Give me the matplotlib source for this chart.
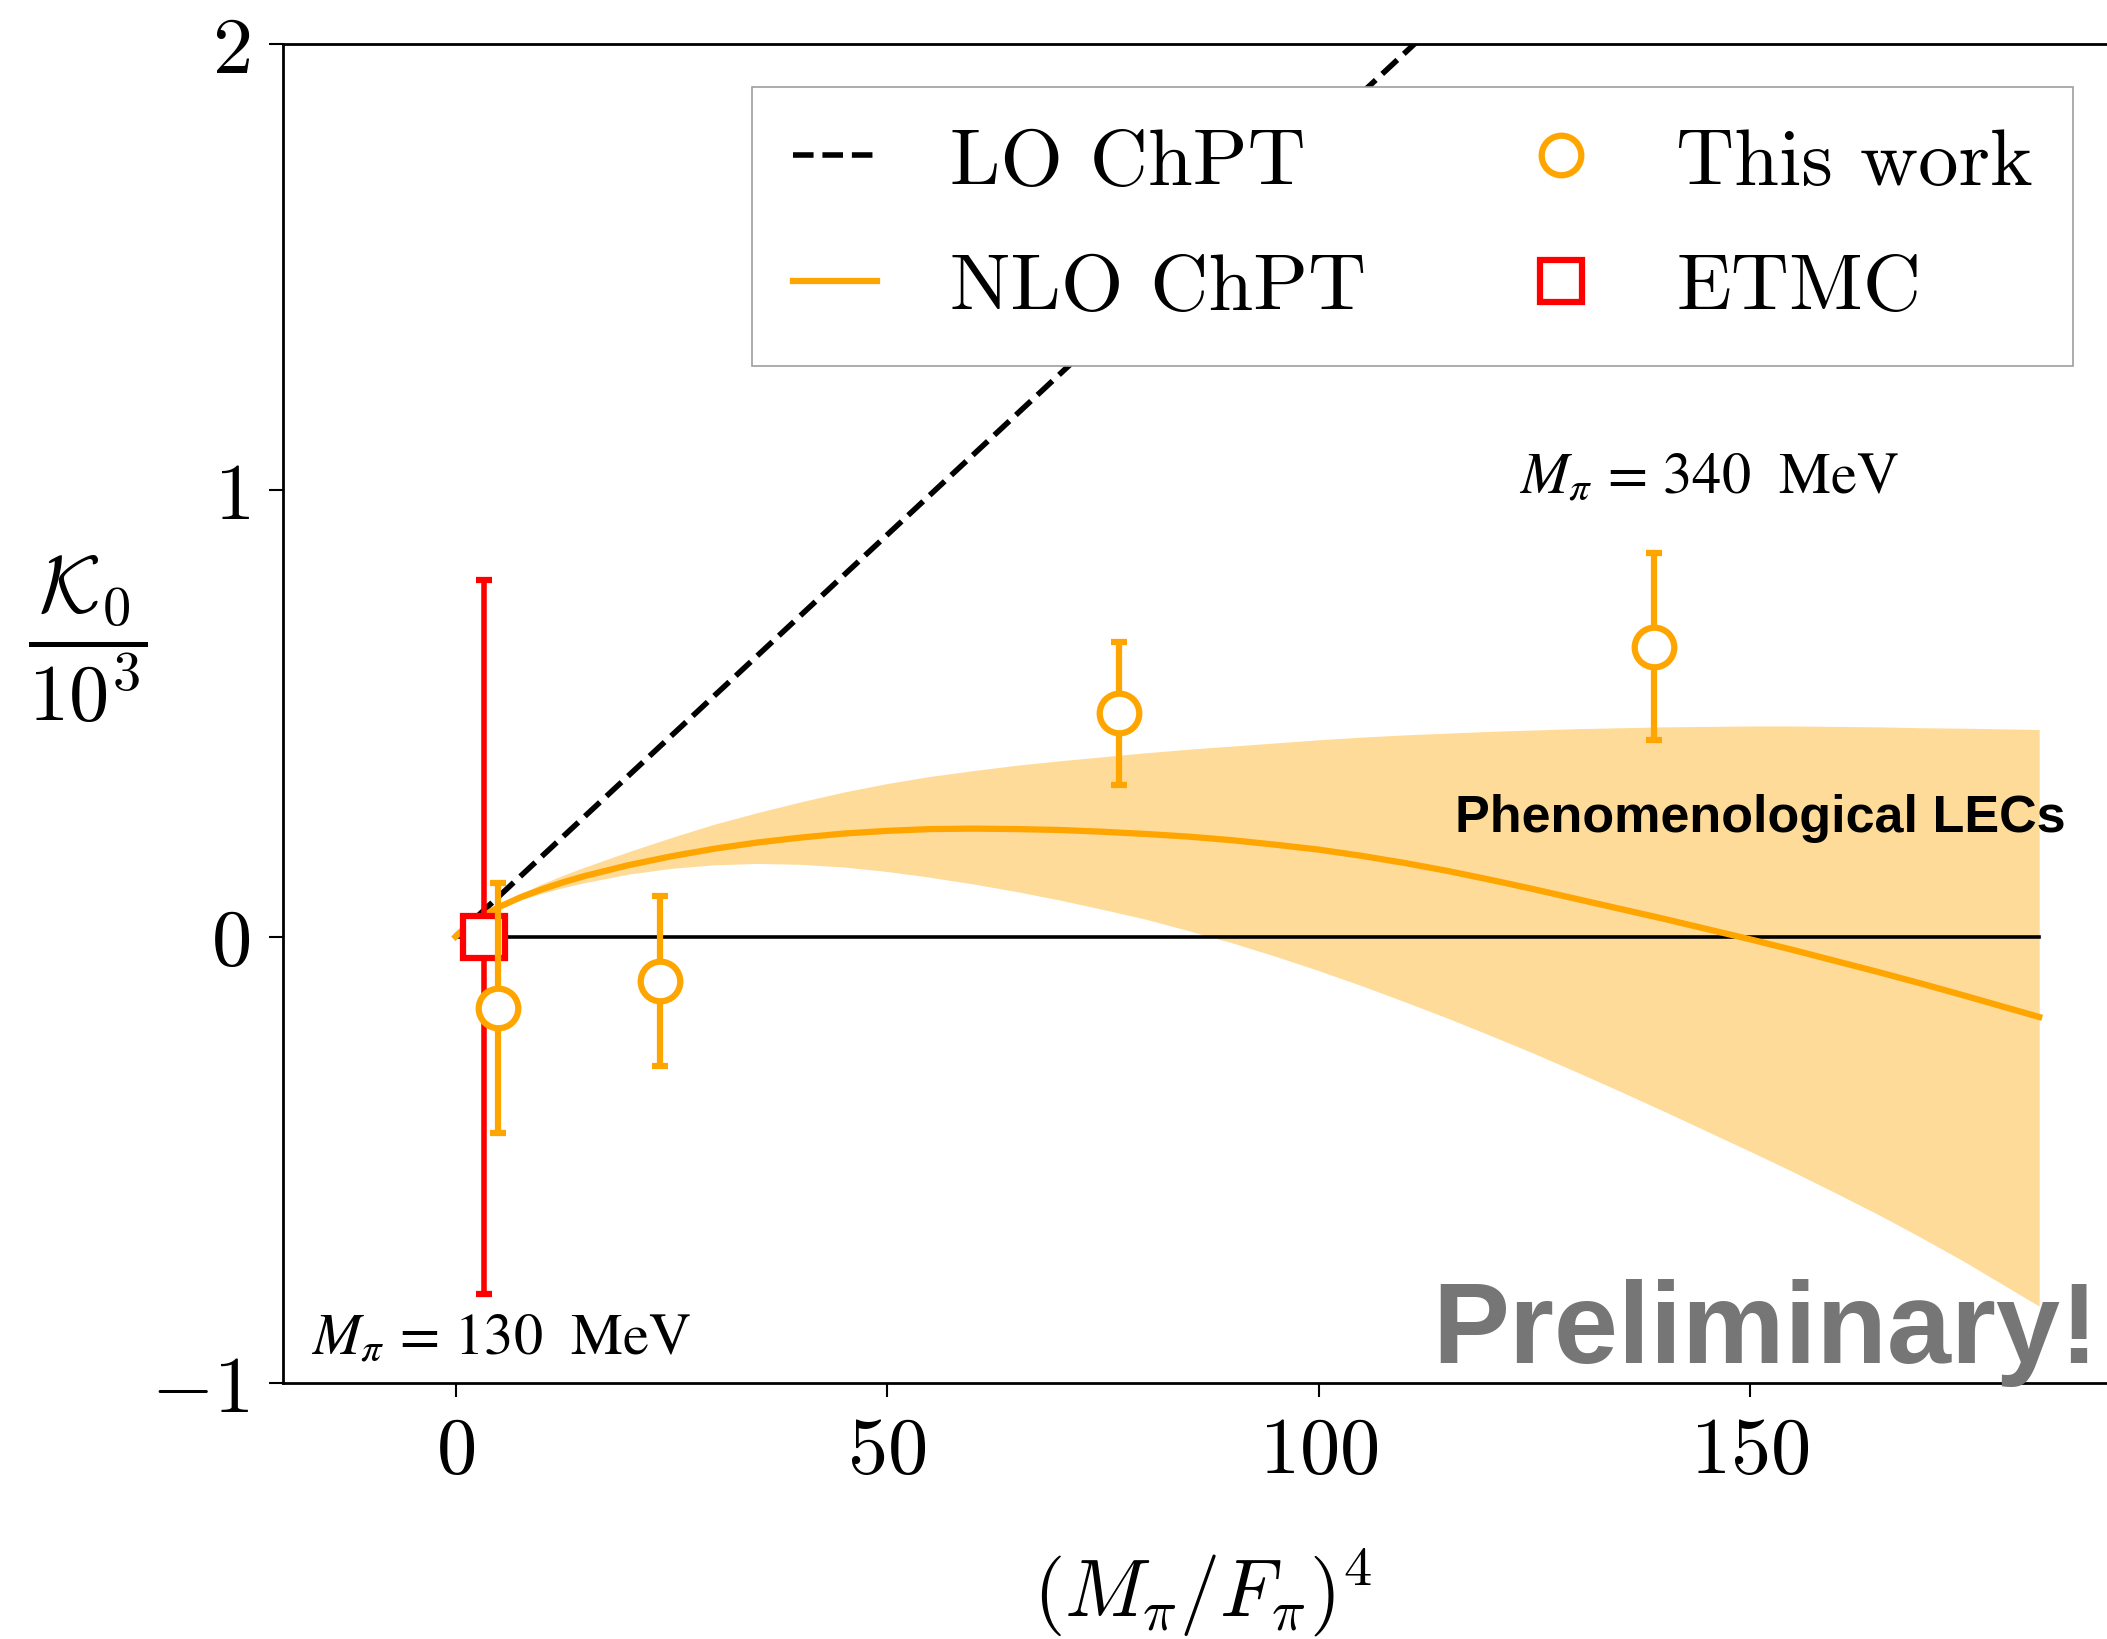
import numpy as np
import matplotlib
matplotlib.use("Agg")
import matplotlib.pyplot as plt

plt.rcParams["mathtext.fontset"] = "cm"
plt.rcParams["font.family"] = "cmr10"
plt.rcParams["axes.unicode_minus"] = False

# ---- data ---------------------------------------------------------------
# NLO ChPT central curve and its band (phenomenological LECs)
x_fit = [0, 1, 2, 3, 5, 7.5, 10, 12.5, 15, 20, 25, 30, 35, 40, 45, 50, 55, 60,
         65, 70, 75, 80, 85, 90, 95, 100, 105, 110, 115, 120, 125, 130, 135,
         140, 145, 150, 155, 160, 165, 170, 175, 183.5]
nlo_central = [0, 0.018, 0.033, 0.045, 0.066, 0.088, 0.106, 0.122, 0.136, 0.160,
               0.180, 0.197, 0.211, 0.222, 0.231, 0.237, 0.241, 0.242, 0.241,
               0.239, 0.235, 0.230, 0.224, 0.216, 0.206, 0.195, 0.181, 0.165,
               0.147, 0.127, 0.106, 0.084, 0.062, 0.040, 0.017, -0.006, -0.030,
               -0.055, -0.080, -0.106, -0.133, -0.180]
nlo_upper = [0, 0.019, 0.035, 0.048, 0.071, 0.096, 0.118, 0.138, 0.156, 0.190,
             0.222, 0.252, 0.278, 0.302, 0.324, 0.343, 0.359, 0.372, 0.384,
             0.394, 0.403, 0.412, 0.420, 0.427, 0.434, 0.441, 0.447, 0.452,
             0.456, 0.460, 0.463, 0.466, 0.468, 0.470, 0.471, 0.472, 0.472,
             0.471, 0.470, 0.468, 0.467, 0.464]
nlo_lower = [0, 0.017, 0.031, 0.042, 0.062, 0.082, 0.097, 0.110, 0.121, 0.140,
             0.153, 0.161, 0.164, 0.162, 0.156, 0.146, 0.133, 0.118, 0.101,
             0.082, 0.061, 0.039, 0.013, -0.014, -0.044, -0.076, -0.110,
             -0.146, -0.183, -0.222, -0.262, -0.304, -0.347, -0.391, -0.436,
             -0.481, -0.527, -0.575, -0.624, -0.676, -0.730, -0.828]

# LO ChPT straight line
lo_x = [0, 200]
lo_y = [0, 3.6]

# Lattice results (this work)
work_x = [4.9, 23.7, 76.9, 138.9]
work_y = [-0.16, -0.10, 0.50, 0.65]
work_err = [0.28, 0.19, 0.16, 0.21]

# ETMC
etmc_x = [3.3]
etmc_y = [0.0]
etmc_err = [0.80]

x_ticks = [0, 50, 100, 150]
x_tick_labels = ["$0$", "$50$", "$100$", "$150$"]
y_ticks = [-1, 0, 1, 2]
y_tick_labels = ["$-1$", "$0$", "$1$", "$2$"]

# ---- figure -------------------------------------------------------------
fig = plt.figure(figsize=(21.07, 16.40), dpi=100)
ax = fig.add_axes([0.1343, 0.1561, 0.9011, 0.8165])
ax.set_xlim(-20, 200)
ax.set_ylim(-1, 2)

orange = "orange"
fs = 58

ax.fill_between(x_fit, nlo_lower, nlo_upper, color=orange, alpha=0.4, lw=0, zorder=1)
ax.plot([x_fit[0], x_fit[-1]], [0, 0], color="black", lw=2.6, zorder=1.5)
lo_line, = ax.plot(lo_x, lo_y, color="black", ls="--", lw=4, zorder=2, label="LO ChPT")
nlo_line, = ax.plot(x_fit, nlo_central, color=orange, lw=4.5, zorder=2.2,
                    label="NLO ChPT", solid_joinstyle="round")

etmc = ax.errorbar(etmc_x, etmc_y, yerr=etmc_err, fmt="s", ms=30, mfc="white",
                   mec="red", mew=4.5, ecolor="red", elinewidth=4,
                   capsize=5.5, capthick=3.5, zorder=3)
work = ax.errorbar(work_x, work_y, yerr=work_err, fmt="o", ms=28.5, mfc="white",
                   mec=orange, mew=4.5, ecolor=orange, elinewidth=4.5,
                   capsize=5.5, capthick=3.5, zorder=4)

# ---- axes styling -------------------------------------------------------
for side in ["left", "bottom", "top", "right"]:
    ax.spines[side].set_linewidth(2)
ax.set_xticks(x_ticks)
ax.set_xticklabels(x_tick_labels)
ax.set_yticks(y_ticks)
ax.set_yticklabels(y_tick_labels)
ax.tick_params(axis="both", direction="out", length=10, width=1.5,
               labelsize=fs, pad=14, top=False, right=False)

ax.set_xlabel(r"$(M_\pi/F_\pi)^4$", fontsize=fs)
ax.xaxis.set_label_coords(0.4846, -0.156)
ax.xaxis.label.set_va("center")
ax.set_ylabel(r"$\dfrac{\mathcal{K}_0}{10^3}$", fontsize=fs, rotation=0)
ax.yaxis.set_label_coords(-0.103, 0.556)
ax.yaxis.label.set_va("center")
ax.yaxis.label.set_ha("center")

# ---- annotations --------------------------------------------------------
ax.text(123.2, 0.995, r"$M_\pi\,=\,340\ \ \mathrm{MeV}$", fontsize=42,
        math_fontfamily="stix", ha="left", va="baseline", zorder=5)
ax.text(-16.8, -0.934, r"$M_\pi\,=\,130\ \ \mathrm{MeV}$", fontsize=42,
        math_fontfamily="stix", ha="left", va="baseline", zorder=5)
ax.text(115.8, 0.236, "Phenomenological LECs", fontsize=37.5,
        family="Liberation Sans", weight="bold", color="black",
        ha="left", va="baseline", zorder=5)
ax.text(113.2, -0.952, "Preliminary!", fontsize=83,
        family="Liberation Sans", weight="bold", color="#767676",
        ha="left", va="baseline", zorder=5)

# ---- legend -------------------------------------------------------------
leg = ax.legend([lo_line, nlo_line, work[0], etmc[0]],
                ["LO ChPT", "NLO ChPT", "This work", "ETMC"],
                ncol=2, loc="upper right",
                bbox_to_anchor=(2073 / 2107, 1 - 88 / 1640),
                bbox_transform=fig.transFigure, borderaxespad=0,
                prop={"family": "cmr10", "size": fs},
                handlelength=1.05, handletextpad=0.9, columnspacing=1.9,
                labelspacing=0.66, borderpad=0.5,
                fancybox=False, framealpha=1, edgecolor="0.62")
leg.get_frame().set_linewidth(1.2)

fig.savefig("out.png", dpi=100)
